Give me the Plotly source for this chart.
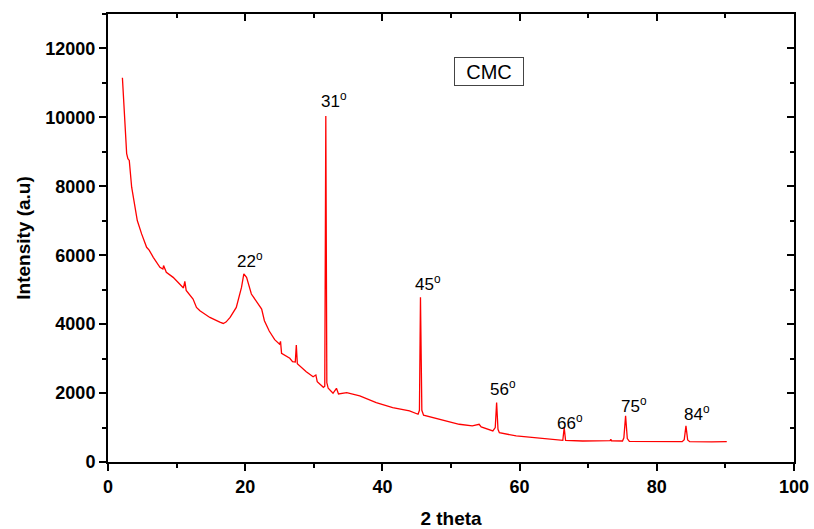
import plotly.graph_objects as go

# 2-theta (deg) and intensity (a.u.)
two_theta = [2.1, 2.23, 2.5, 2.72, 2.9, 3.1, 3.45, 3.93, 4.27, 4.9, 5.63, 6.0, 6.6, 7.57, 8.0, 8.1, 8.5,
             9.5, 10.5, 11.0, 11.2, 11.4, 12.4, 12.9, 13.4, 14.85, 16.3, 16.8, 17.2, 17.8, 18.7, 19.2,
             19.46, 19.8, 20.0, 20.2, 20.9, 21.9, 22.4, 22.8, 23.5, 24.3, 25.0, 25.15, 25.3, 26.5, 26.9,
             27.3, 27.45, 27.6, 28.9, 29.9, 30.3, 30.5, 31.4, 31.6, 31.75, 31.9, 32.1, 32.8, 33.3, 33.6,
             34.8, 36.7, 39.1, 41.5, 43.95, 45.2, 45.4, 45.55, 45.75, 46.0, 46.4, 49.05, 51.2, 53.1,
             54.1, 54.4, 56.1, 56.45, 56.65, 56.85, 57.05, 59.5, 61.9, 64.8, 66.3, 66.5, 66.7, 69.2,
             73.2, 73.3, 73.4, 75.0, 75.2, 75.45, 75.7, 76.0, 78.9, 83.7, 84.0, 84.25, 84.5, 84.8, 88.0,
             90.2]
intensity = [11150, 10590, 9700, 8945, 8800, 8750, 7974, 7393, 7006, 6619, 6230, 6150, 5940, 5648, 5600,
             5700, 5503, 5358, 5165, 5050, 5241, 4980, 4730, 4486, 4390, 4195, 4060, 4020, 4060, 4195,
             4486, 4850, 5067, 5456, 5400, 5358, 4875, 4584, 4439, 4100, 3800, 3550, 3420, 3500, 3155,
             3009, 2911, 2900, 3395, 2850, 2620, 2475, 2525, 2330, 2168, 2200, 10040, 2300, 2139, 1994,
             2139, 1973, 2011, 1919, 1724, 1580, 1483, 1386, 1500, 4780, 1500, 1357, 1337, 1211, 1095,
             1047, 1095, 1020, 900, 1000, 1724, 950, 852, 756, 707, 659, 630, 1000, 630, 610, 620, 659,
             615, 610, 700, 1337, 680, 600, 590, 590, 650, 1047, 640, 590, 585, 590]

# Peak labels and their positions (text placement only)
peak_labels = ["22", "31", "45", "56", "66", "75", "84"]
label_x = [20.7, 33.0, 46.7, 57.6, 67.4, 76.7, 85.8]
label_y = [5850, 10500, 5200, 2140, 1170, 1660, 1420]

x_range = [0, 100]
y_range = [0, 13000]

font_fam = "Arial, Liberation Sans, sans-serif"

fig = go.Figure()
fig.add_trace(go.Scatter(x=two_theta, y=intensity, mode="lines",
                         line=dict(color="#ff0000", width=1.3), showlegend=False,
                         hoverinfo="skip"))
# invisible trace to activate mirror axes (top/right with inward ticks)
fig.add_trace(go.Scatter(x=[None], y=[None], xaxis="x2", yaxis="y2", mode="lines",
                         showlegend=False, hoverinfo="skip"))

tickfont = dict(family=font_fam, size=18, color="black")
common = dict(showline=True, linecolor="black", linewidth=2, showgrid=False, zeroline=False,
              tickcolor="black", tickwidth=2, automargin=False)

fig.update_layout(
    width=814, height=529,
    margin=dict(l=108, r=20, t=14, b=67, autoexpand=False),
    paper_bgcolor="white", plot_bgcolor="white",
    xaxis=dict(range=x_range, dtick=20, ticks="outside", ticklen=7, tickfont=tickfont,
               tickformat="d",
               title=dict(text="<b>2 theta</b>", font=dict(family=font_fam, size=19, color="black"),
                          standoff=16),
               tickprefix="<b>", ticksuffix="</b>",
               minor=dict(dtick=10, ticks="outside", ticklen=4, tickwidth=2, tickcolor="black"),
               **common),
    yaxis=dict(range=y_range, dtick=2000, ticks="outside", ticklen=7, tickfont=tickfont,
               tickformat="d",
               title=dict(text="<b>Intensity (a.u)</b>", font=dict(family=font_fam, size=19, color="black"),
                          standoff=10),
               tickprefix="<b>", ticksuffix="</b>",
               minor=dict(dtick=1000, ticks="outside", ticklen=4, tickwidth=2, tickcolor="black"),
               **common),
    xaxis2=dict(range=x_range, dtick=20, overlaying="x", side="top", anchor="y2", ticks="inside",
                ticklen=7, showticklabels=False,
                minor=dict(dtick=10, ticks="inside", ticklen=4, tickwidth=2, tickcolor="black"),
                **common),
    yaxis2=dict(range=y_range, dtick=2000, overlaying="y", side="right", anchor="x2", ticks="inside",
                ticklen=7, showticklabels=False,
                minor=dict(dtick=1000, ticks="inside", ticklen=4, tickwidth=2, tickcolor="black"),
                **common),
)

for lab, lx, ly in zip(peak_labels, label_x, label_y):
    fig.add_annotation(x=lx, y=ly, text=f"{lab}<sup>o</sup>", showarrow=False,
                       font=dict(family=font_fam, size=17, color="black"),
                       xanchor="center", yanchor="middle")

fig.add_annotation(xref="paper", yref="paper", x=(489 - 108) / 686, y=(462 - 71.5) / 448,
                   text="CMC", showarrow=False, font=dict(family=font_fam, size=20, color="black"),
                   bordercolor="#444444", borderwidth=1, borderpad=2, bgcolor="white",
                   width=64, height=23, xanchor="center", yanchor="middle")

fig.write_html("out.html")
